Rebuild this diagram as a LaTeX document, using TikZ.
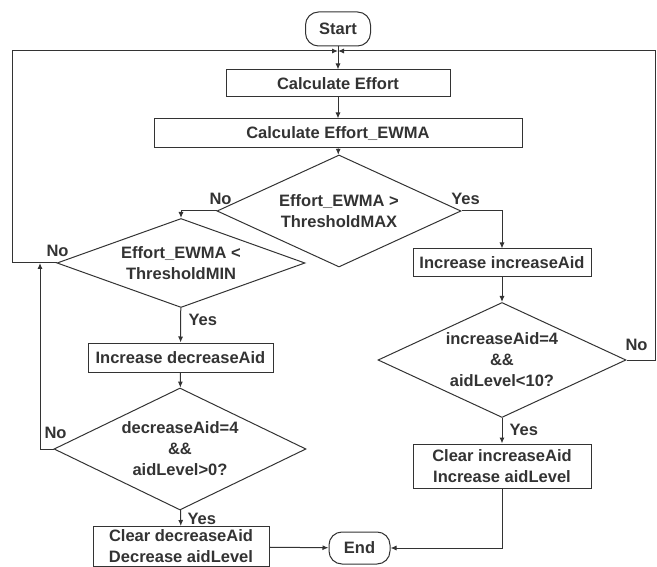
\documentclass[tikz,border=0pt]{standalone}
\usepackage{fontspec}
\setmainfont{Liberation Sans}
\usetikzlibrary{shapes.geometric,arrows.meta}

\tikzset{
  process/.style={draw, rectangle, inner sep=1pt, align=center},
  decision/.style={draw, diamond, inner sep=0pt, align=center},
  terminal/.style={draw, rectangle, rounded corners=13pt, inner sep=1pt},
  lbl/.style={inner sep=1pt}
}

\begin{document}
\begin{tikzpicture}[x=1pt,y=-1pt, line width=1pt, black!80,
  font=\bfseries\fontsize{16.5}{21}\selectfont,
  >={Latex[length=6pt,width=5pt]}]
                    \useasboundingbox (0,0) rectangle (657,567);
                    % nodes
                    \node[terminal, minimum width=65pt, minimum height=34pt] (start) at (338,29) {Start};
                    \coordinate (join) at (338,51);
                    \node[process, minimum width=224pt, minimum height=27pt] (effort) at (338,83.5) {Calculate Effort};
                    \node[process, minimum width=368pt, minimum height=29pt] (ewma) at (338,133.5) {Calculate Effort\_EWMA};
                    \node[decision, aspect=2.18, minimum width=244pt, minimum height=112pt] (dmax) at (339,211) {Effort\_EWMA >\\ThresholdMAX};
                    \node[decision, aspect=2.79, minimum width=248pt, minimum height=89pt] (dmin) at (181,263) {Effort\_EWMA <\\ThresholdMIN};
                    \node[process, minimum width=178pt, minimum height=28pt] (incinc) at (502,263) {Increase increaseAid};
                    \node[process, minimum width=185pt, minimum height=29pt] (incdec) at (180.5,357.5) {Increase decreaseAid};
                    \node[decision, aspect=2.16, minimum width=248pt, minimum height=115pt] (dinc) at (502,360) {increaseAid=4\\\&\&\\aidLevel<10?};
                    \node[decision, aspect=2.07, minimum width=252pt, minimum height=122pt] (ddec) at (180,449) {decreaseAid=4\\\&\&\\aidLevel>0?};
                    \node[process, minimum width=178pt, minimum height=44pt] (clrinc) at (502,466) {Clear increaseAid\\Increase aidLevel};
                    \node[process, minimum width=176pt, minimum height=40pt] (clrdec) at (181,546.5) {Clear decreaseAid\\Decrease aidLevel};
                    \node[terminal, minimum width=61pt, minimum height=32pt] (end) at (359.5,548) {End};
                    \coordinate (merge) at (40,263);
                    % connectors
                    \draw (start) -- (join);
                    \draw[->] (join) -- (effort);
                    \draw[->] (effort) -- (ewma);
                    \draw[->] (ewma) -- (dmax);
                    \draw[->] (dmax.west) -| (dmin.north);
                    \draw[->] (dmax.east) -| (incinc.north);
                    \draw[->] (dmin) -- (incdec);
                    \draw[->] (dmin.west) -- ++(-44,0) |- (join);
                    \draw[->] (incdec) -- (ddec);
                    \draw[->] (ddec) -- (clrdec);
                    \draw[->] (ddec.west) -| (merge);
                    \draw[->] (incinc) -- (dinc);
                    \draw[->] (dinc) -- (clrinc);
                    \draw[->] (dinc.east) -- ++(29,0) |- (join);
                    \draw[->] (clrdec) -- (end);
                    \draw[->] (clrinc.south) |- (end.east);
                    % labels
                    \node[lbl, anchor=south] at ([xshift=4pt,yshift=5pt]dmax.west) {No};
                    \node[lbl, anchor=south] at ([xshift=4pt,yshift=5pt]dmax.east) {Yes};
                    \node[lbl, anchor=south] at ([xshift=1pt,yshift=5pt]dmin.west) {No};
                    \node[lbl, anchor=west] at ([xshift=6pt,yshift=-12pt]dmin.south) {Yes};
                    \node[lbl, anchor=south] at ([xshift=2pt,yshift=9pt]ddec.west) {No};
                    \node[lbl, anchor=west] at ([xshift=6pt,yshift=-8pt]ddec.south) {Yes};
                    \node[lbl, anchor=south] at ([xshift=10pt,yshift=8pt]dinc.east) {No};
                    \node[lbl, anchor=west] at ([xshift=6pt,yshift=-12pt]dinc.south) {Yes};
                \end{tikzpicture}
\end{document}
